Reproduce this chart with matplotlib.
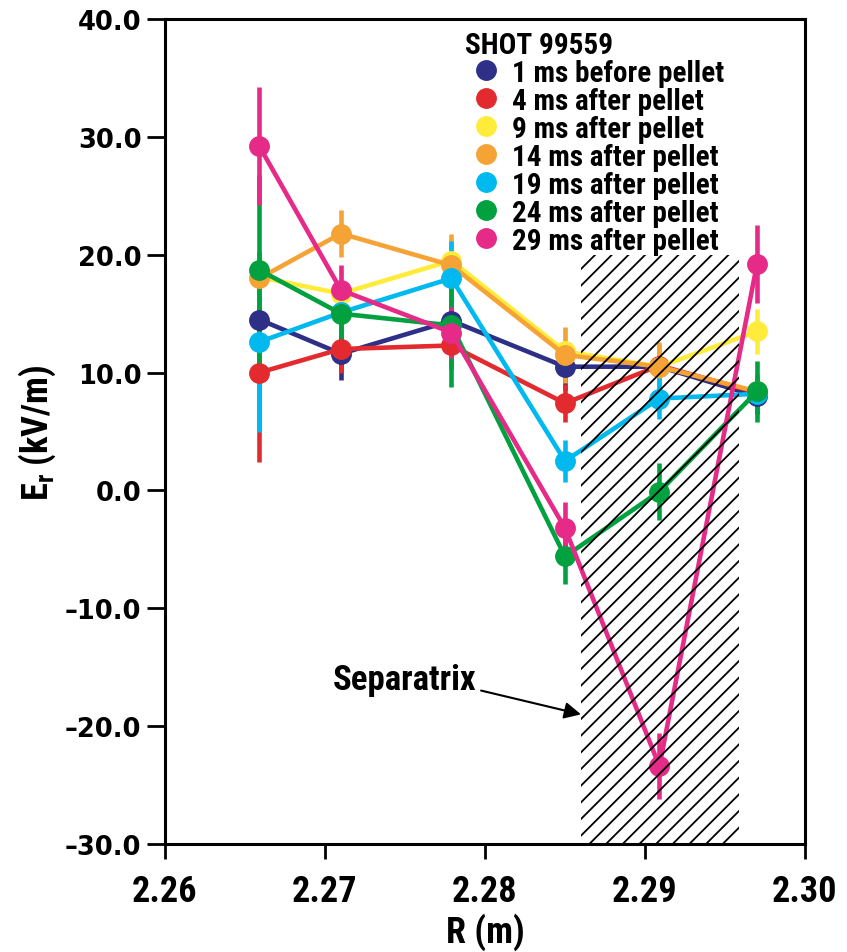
import matplotlib
matplotlib.use('Agg')
import matplotlib.pyplot as plt
from matplotlib import font_manager as fm
from matplotlib.lines import Line2D
from matplotlib.patches import Rectangle
from matplotlib.ticker import FuncFormatter

plt.rcParams['hatch.linewidth'] = 1.3

# radial positions (m)
R = [2.2659, 2.2710, 2.2779, 2.2850, 2.2909, 2.2970]

labels = ['1 ms before pellet', '4 ms after pellet', '9 ms after pellet',
          '14 ms after pellet', '19 ms after pellet', '24 ms after pellet',
          '29 ms after pellet']
colors = ['#2e3087', '#e32b2f', '#ffec3a', '#f6a336', '#00b9ee', '#00a13e', '#e62a87']

# Er (kV/m) per time slice
er_m1 = [14.5, 11.6, 14.4, 10.5, 10.5, 8.0]
er_4 = [10.0, 12.0, 12.3, 7.4, 10.6, 8.3]
er_9 = [18.1, 16.7, 19.5, 11.8, 10.5, 13.5]
er_14 = [18.0, 21.8, 19.1, 11.5, 10.5, 8.4]
er_19 = [12.6, 15.1, 18.0, 2.5, 7.8, 8.2]
er_24 = [18.7, 15.0, 14.0, -5.6, -0.1, 8.4]
er_29 = [29.2, 17.0, 13.4, -3.2, -23.4, 19.2]

# error bars
err_m1 = [2.0, 2.2, 2.0, 2.0, 1.8, 1.5]
err_4 = [7.6, 2.0, 2.0, 1.6, 1.5, 1.5]
err_9 = [2.0, 2.0, 2.0, 2.0, 1.8, 1.9]
err_14 = [2.0, 2.0, 2.7, 2.4, 2.1, 1.5]
err_19 = [7.6, 2.0, 3.2, 1.8, 1.7, 1.5]
err_24 = [8.1, 2.2, 5.2, 2.3, 2.4, 2.6]
err_29 = [5.0, 2.1, 2.2, 2.2, 2.8, 3.3]

series = [er_m1, er_4, er_9, er_14, er_19, er_24, er_29]
errors = [err_m1, err_4, err_9, err_14, err_19, err_24, err_29]

# shaded separatrix region
sep_r = [2.2860, 2.2959]
sep_top = 20.0

xticks = [2.26, 2.27, 2.28, 2.29, 2.30]
yticks = [-30, -20, -10, 0, 10, 20, 30, 40]


def weight_num(w):
    if isinstance(w, int):
        return w
    return {'bold': 700, 'heavy': 800, 'black': 900, 'semibold': 600,
            'demibold': 600, 'extra bold': 800}.get(str(w).lower(), 400)


# look for a bold condensed face (the original uses a narrow Helvetica)
cands = []
for f in fm.fontManager.ttflist:
    narrowish = ('Narrow' in f.name or 'Condensed' in f.name or
                 f.stretch in ('condensed', 'semi-condensed', 'extra-condensed'))
    if narrowish and weight_num(f.weight) >= 700 and f.style == 'normal':
        cands.append(f)
cands.sort(key=lambda f: (0 if 'Roboto' in f.name else 1 if 'Liberation' in f.name else 2,
                          abs(weight_num(f.weight) - 700)))
if cands:
    def nfont(size):
        return fm.FontProperties(fname=cands[0].fname, size=size)
    scale = 1.0
else:
    def nfont(size):
        return fm.FontProperties(family='Roboto', weight='bold', size=size)
    scale = 0.8

fig = plt.figure(figsize=(8.47, 9.53), dpi=100)
ax = fig.add_axes([0.1948, 0.1133, 0.7556, 0.8657])

for y, e, c in zip(series, errors, colors):
    ax.errorbar(R, y, yerr=e, color=c, lw=3.3, elinewidth=3.3, capsize=0,
                marker='o', ms=14, mec=c, mfc=c)

ax.add_patch(Rectangle((sep_r[0], -30), sep_r[1] - sep_r[0], sep_top + 30,
                       fill=False, hatch='//', lw=0, zorder=10))

ax.annotate('Separatrix', xy=(sep_r[0], -19.0), xytext=(2.275, -16.0),
            ha='center', va='center', fontproperties=nfont(25 * scale),
            arrowprops=dict(arrowstyle='-|>', color='k', lw=1.5,
                            mutation_scale=25, relpos=(1.03, 0.15),
                            shrinkA=0, shrinkB=0))

ax.set_xlim(2.26, 2.30)
ax.set_ylim(-30, 40)
ax.set_xticks(xticks)
ax.set_yticks(yticks)
ax.xaxis.set_major_formatter(FuncFormatter(lambda v, p: '%.2f' % v))
ax.yaxis.set_major_formatter(FuncFormatter(lambda v, p: ('%.1f' % v).replace('-', '\u2013')))

for s in ax.spines.values():
    s.set_linewidth(2.2)
ax.tick_params(axis='y', direction='out', length=13, width=2, pad=4)
ax.tick_params(axis='x', direction='out', length=11, width=2, pad=10)
for t in ax.get_yticklabels():
    t.set_family('DejaVu Sans')
    t.set_fontweight('bold')
    t.set_fontsize(18.5)
for t in ax.get_xticklabels():
    t.set_fontproperties(nfont(26 * scale))

ax.set_xlabel('R (m)', fontproperties=nfont(26 * scale), labelpad=2)
ax.set_ylabel('E$_\\mathregular{r}$ (kV/m)', fontproperties=nfont(26 * scale),
              labelpad=5)

handles = [Line2D([], [], ls='none', marker='o', ms=14, color=c) for c in colors]
leg = ax.legend(handles, labels, title='SHOT 99559', loc='upper left',
                bbox_to_anchor=(0.469, 0.986), frameon=False, borderpad=0,
                borderaxespad=0, handlelength=1.4, handletextpad=0.2,
                labelspacing=0.0, alignment='left',
                prop=nfont(21 * scale), title_fontproperties=nfont(21 * scale))
leg.set_zorder(20)

fig.savefig('out.png', dpi=100)
